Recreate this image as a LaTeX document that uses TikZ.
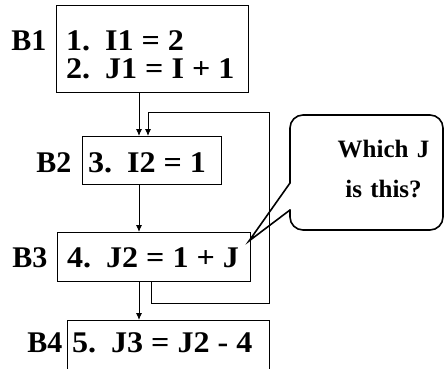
\documentclass[tikz,border=0pt]{standalone}
\usepackage{fontspec}
\setmainfont{Liberation Serif}
\newfontfamily\blkfont{Liberation Serif}[FakeStretch=1.07]
\usetikzlibrary{positioning,arrows.meta}

\begin{document}
\begin{tikzpicture}[x=1pt,y=-1pt,
    blk/.style={draw,line width=0.9pt,anchor=north,inner xsep=10pt,inner ysep=0pt,align=flush left,
      font=\blkfont\fontsize{30}{28}\selectfont\bfseries},
    lbl/.style={inner sep=0pt,font=\fontsize{30}{28}\selectfont\bfseries},
    flow/.style={line width=0.9pt,-{Latex[length=7pt,width=6pt]}},
    bubble/.style={line width=1.6pt,line cap=round}]
  \useasboundingbox (0,0) rectangle (444,369);

  % basic blocks
  \node[blk,text width=172pt,text height=45pt,text depth=42pt] (B1) at (152,5) {1.\hspace{15pt}I1 = 2\\2.\hspace{15pt}J1 = I + 1};
  \node[blk,inner xsep=6pt,text width=127pt,text height=36pt,text depth=12pt] (B2) at (151.5,136) {3.\hspace{15pt}I2 = 1};
  \node[blk,text width=173pt,text height=35pt,text depth=14pt] (B3) at (153.5,232) {4.\hspace{15pt}J2 = 1 + J};
  \node[blk,inner xsep=5pt,text width=192pt,text height=32pt,text depth=28pt] (B4) at (168,320) {5.\hspace{15pt}J3 = J2 - 4};

  % block names
  \node[lbl,base left=9pt of B1] (L1) {B1};
  \node[lbl,base left=10pt of B2] (L2) {B2};
  \node[lbl,base left=9pt of B3] (L3) {B3};
  \node[lbl,base left=4pt of B4] (L4) {B4};

  % control flow
  \coordinate (spine) at (139,0);
  \draw[flow] (B1.south -| spine) -- (B2.north -| spine);
  \draw[flow] (B2.south -| spine) -- (B3.north -| spine);
  \draw[flow] (B3.south -| spine) -- (B4.north -| spine);

  % back edge B3 -> B2
  \coordinate (loopin) at (151,0);
  \coordinate (loopbot) at (269,303);
  \coordinate (looptop) at (148,112);
  \draw[flow] (B3.south -| loopin) |- (loopbot) |- (looptop) -- (B2.north -| looptop);

  % question bubble
  \coordinate (tip) at (249,241);
  \draw[bubble,rounded corners=13pt] (290,210) -- (290,230) -- (443,230) -- (443,115) -- (290,115) -- (290,183);
  \draw[bubble,line join=miter] (290,183) -- (tip) -- (290,210);
  \node[font=\fontsize{25}{40}\selectfont\bfseries,text width=120pt,align=center,anchor=north,inner sep=0pt,
    text height=17pt] (ask) at (383.5,140) {Which J\\is this?};
\end{tikzpicture}
\end{document}
